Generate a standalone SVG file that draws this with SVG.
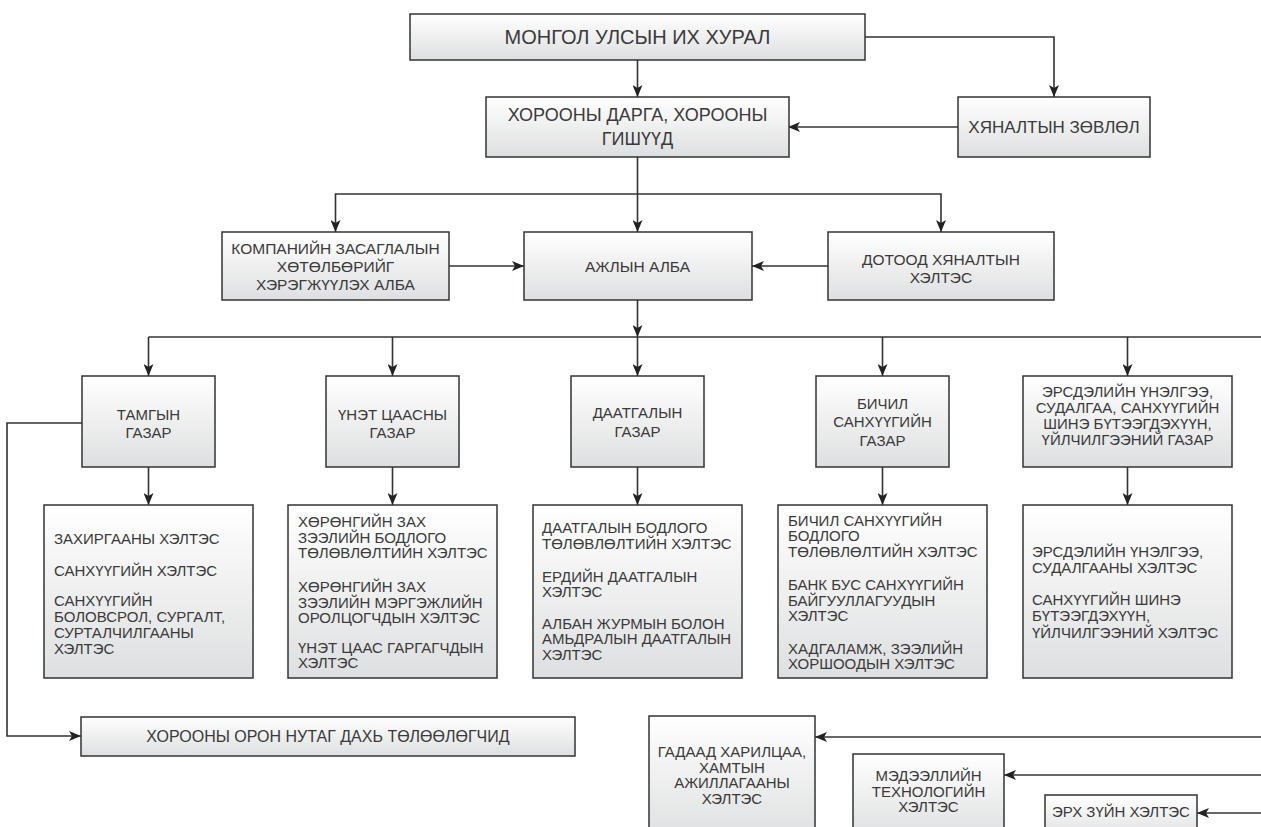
<svg xmlns="http://www.w3.org/2000/svg" width="1261" height="827" viewBox="0 0 1261 827">
<defs>
<linearGradient id="g" x1="0" y1="0" x2="0" y2="1">
<stop offset="0" stop-color="#ffffff"/>
<stop offset="1" stop-color="#dedfe0"/>
</linearGradient>
<marker id="a" viewBox="0 0 12 10" refX="12" refY="5" markerWidth="12" markerHeight="10" orient="auto" markerUnits="userSpaceOnUse">
<path d="M0,0 L12,5 L0,10 L3,5 z" fill="#222"/>
</marker>
</defs>
<style>
.b{fill:url(#g);stroke:#333;stroke-width:1.5}
.c{fill:none;stroke:#333;stroke-width:1.6}
.m{marker-end:url(#a)}
text{font-family:"Liberation Sans",Arial,sans-serif;fill:#3a3a3a;font-size:15px}
.t{text-anchor:middle}
</style>
<rect width="1261" height="827" fill="#fff"/>
<g id="connectors">
<path class="c m" d="M637.5,60 V97"/>
<path class="c m" d="M865,37 H1054 V97"/>
<path class="c m" d="M958,127 H788"/>
<path class="c m" d="M637.5,157 V232"/>
<path class="c m" d="M637.5,194 H335.5 V232"/>
<path class="c m" d="M637.5,194 H941 V232"/>
<path class="c m" d="M449,266 H524"/>
<path class="c m" d="M828,266 H752"/>
<path class="c m" d="M637.5,300 V337"/>
<path class="c" d="M148.5,337 H1261"/>
<path class="c m" d="M148.5,337 V376"/>
<path class="c m" d="M392.5,337 V376"/>
<path class="c m" d="M637.5,337 V376"/>
<path class="c m" d="M882.5,337 V376"/>
<path class="c m" d="M1127.5,337 V376"/>
<path class="c m" d="M148.5,467 V505"/>
<path class="c m" d="M392.5,467 V505"/>
<path class="c m" d="M637.5,467 V505"/>
<path class="c m" d="M882.5,467 V505"/>
<path class="c m" d="M1127.5,467 V505"/>
<path class="c m" d="M82,423 H7 V736 H81"/>
<path class="c m" d="M1261,737 H815"/>
<path class="c m" d="M1261,775 H1004"/>
<path class="c m" d="M1261,813 H1197"/>
</g>
<g id="n-ikh-khural">
<rect class="b" x="410" y="14" width="455" height="46"/>
<text class="t" x="637.5" y="44" style="font-size:20px">МОНГОЛ УЛСЫН ИХ ХУРАЛ</text>
</g>
<g id="n-darga">
<rect class="b" x="486" y="97" width="303" height="60"/>
<text class="t" x="637.5" y="121" style="font-size:18px">ХОРООНЫ ДАРГА, ХОРООНЫ</text>
<text class="t" x="637.5" y="145" style="font-size:18px">ГИШҮҮД</text>
</g>
<g id="n-zovlol">
<rect class="b" x="958" y="97" width="192" height="60"/>
<text class="t" x="1054" y="133" style="font-size:17px">ХЯНАЛТЫН ЗӨВЛӨЛ</text>
</g>
<g id="n-kompani">
<rect class="b" x="222" y="232" width="227" height="68"/>
<text class="t" x="335.5" y="253.5" style="font-size:15.5px">КОМПАНИЙН ЗАСАГЛАЛЫН</text>
<text class="t" x="335.5" y="271.5" style="font-size:15.5px">ХӨТӨЛБӨРИЙГ</text>
<text class="t" x="335.5" y="289.5" style="font-size:15.5px">ХЭРЭГЖҮҮЛЭХ АЛБА</text>
</g>
<g id="n-ajlyn">
<rect class="b" x="524" y="232" width="228" height="68"/>
<text class="t" x="637.5" y="271.5" style="font-size:15.5px">АЖЛЫН АЛБА</text>
</g>
<g id="n-dotood">
<rect class="b" x="828" y="232" width="226" height="68"/>
<text class="t" x="941" y="264.5" style="font-size:15.5px">ДОТООД ХЯНАЛТЫН</text>
<text class="t" x="941" y="282.5" style="font-size:15.5px">ХЭЛТЭС</text>
</g>
<g id="n-tamgyn">
<rect class="b" x="82" y="376" width="133" height="91"/>
<text class="t" x="148.5" y="419.5">ТАМГЫН</text>
<text class="t" x="148.5" y="437.5">ГАЗАР</text>
</g>
<g id="n-unet">
<rect class="b" x="326" y="376" width="133" height="91"/>
<text class="t" x="392.5" y="419.5">ҮНЭТ ЦААСНЫ</text>
<text class="t" x="392.5" y="437.5">ГАЗАР</text>
</g>
<g id="n-daatgal">
<rect class="b" x="571" y="376" width="133" height="91"/>
<text class="t" x="637.5" y="418">ДААТГАЛЫН</text>
<text class="t" x="637.5" y="436.5">ГАЗАР</text>
</g>
<g id="n-bichil">
<rect class="b" x="816" y="376" width="133" height="91"/>
<text class="t" x="882.5" y="408.5">БИЧИЛ</text>
<text class="t" x="882.5" y="427">САНХҮҮГИЙН</text>
<text class="t" x="882.5" y="445.5">ГАЗАР</text>
</g>
<g id="n-ersdel">
<rect class="b" x="1023" y="376" width="209" height="91"/>
<text class="t" x="1127.5" y="397">ЭРСДЭЛИЙН ҮНЭЛГЭЭ,</text>
<text class="t" x="1127.5" y="413">СУДАЛГАА, САНХҮҮГИЙН</text>
<text class="t" x="1127.5" y="429">ШИНЭ БҮТЭЭГДЭХҮҮН,</text>
<text class="t" x="1127.5" y="445">ҮЙЛЧИЛГЭЭНИЙ ГАЗАР</text>
</g>
<g id="n-tamgyn-h">
<rect class="b" x="44" y="505" width="209" height="173"/>
<text x="54" y="543.5">ЗАХИРГААНЫ ХЭЛТЭС</text>
<text x="54" y="575.5">САНХҮҮГИЙН ХЭЛТЭС</text>
<text x="54" y="605.5">САНХҮҮГИЙН</text>
<text x="54" y="621.5">БОЛОВСРОЛ, СУРГАЛТ,</text>
<text x="54" y="637.5">СУРТАЛЧИЛГААНЫ</text>
<text x="54" y="653.5">ХЭЛТЭС</text>
</g>
<g id="n-unet-h">
<rect class="b" x="288" y="505" width="209" height="173"/>
<text x="298" y="527">ХӨРӨНГИЙН ЗАХ</text>
<text x="298" y="542.5">ЗЭЭЛИЙН БОДЛОГО</text>
<text x="298" y="558">ТӨЛӨВЛӨЛТИЙН ХЭЛТЭС</text>
<text x="298" y="592">ХӨРӨНГИЙН ЗАХ</text>
<text x="298" y="607.5">ЗЭЭЛИЙН МЭРГЭЖЛИЙН</text>
<text x="298" y="623">ОРОЛЦОГЧДЫН ХЭЛТЭС</text>
<text x="298" y="652.5">ҮНЭТ ЦААС ГАРГАГЧДЫН</text>
<text x="298" y="668">ХЭЛТЭС</text>
</g>
<g id="n-daatgal-h">
<rect class="b" x="533" y="505" width="209" height="173"/>
<text x="542" y="533">ДААТГАЛЫН БОДЛОГО</text>
<text x="542" y="548.5">ТӨЛӨВЛӨЛТИЙН ХЭЛТЭС</text>
<text x="542" y="581.5">ЕРДИЙН ДААТГАЛЫН</text>
<text x="542" y="597">ХЭЛТЭС</text>
<text x="542" y="628.5">АЛБАН ЖУРМЫН БОЛОН</text>
<text x="542" y="644">АМЬДРАЛЫН ДААТГАЛЫН</text>
<text x="542" y="659.5">ХЭЛТЭС</text>
</g>
<g id="n-bichil-h">
<rect class="b" x="778" y="505" width="209" height="173"/>
<text x="788" y="525.5">БИЧИЛ САНХҮҮГИЙН</text>
<text x="788" y="541">БОДЛОГО</text>
<text x="788" y="556.5">ТӨЛӨВЛӨЛТИЙН ХЭЛТЭС</text>
<text x="788" y="590">БАНК БУС САНХҮҮГИЙН</text>
<text x="788" y="605.5">БАЙГУУЛЛАГУУДЫН</text>
<text x="788" y="621">ХЭЛТЭС</text>
<text x="788" y="654">ХАДГАЛАМЖ, ЗЭЭЛИЙН</text>
<text x="788" y="669">ХОРШООДЫН ХЭЛТЭС</text>
</g>
<g id="n-ersdel-h">
<rect class="b" x="1023" y="505" width="209" height="173"/>
<text x="1032" y="557">ЭРСДЭЛИЙН ҮНЭЛГЭЭ,</text>
<text x="1032" y="573">СУДАЛГААНЫ ХЭЛТЭС</text>
<text x="1032" y="605">САНХҮҮГИЙН ШИНЭ</text>
<text x="1032" y="621">БҮТЭЭГДЭХҮҮН,</text>
<text x="1032" y="637.5">ҮЙЛЧИЛГЭЭНИЙ ХЭЛТЭС</text>
</g>
<g id="n-oron-nutag">
<rect class="b" x="81" y="717" width="494" height="39"/>
<text class="t" x="328" y="742" style="font-size:16px">ХОРООНЫ ОРОН НУТАГ ДАХЬ ТӨЛӨӨЛӨГЧИД</text>
</g>
<g id="n-gadaad">
<rect class="b" x="649" y="716" width="166" height="125"/>
<text class="t" x="732" y="757">ГАДААД ХАРИЛЦАА,</text>
<text class="t" x="732" y="772.5">ХАМТЫН</text>
<text class="t" x="732" y="788">АЖИЛЛАГААНЫ</text>
<text class="t" x="732" y="803.5">ХЭЛТЭС</text>
</g>
<g id="n-medeelel">
<rect class="b" x="853" y="754" width="151" height="85"/>
<text class="t" x="928.5" y="781">МЭДЭЭЛЛИЙН</text>
<text class="t" x="928.5" y="796.5">ТЕХНОЛОГИЙН</text>
<text class="t" x="928.5" y="812">ХЭЛТЭС</text>
</g>
<g id="n-erkh-zui">
<rect class="b" x="1045" y="795" width="152" height="45"/>
<text class="t" x="1121" y="817">ЭРХ ЗҮЙН ХЭЛТЭС</text>
</g>
</svg>
